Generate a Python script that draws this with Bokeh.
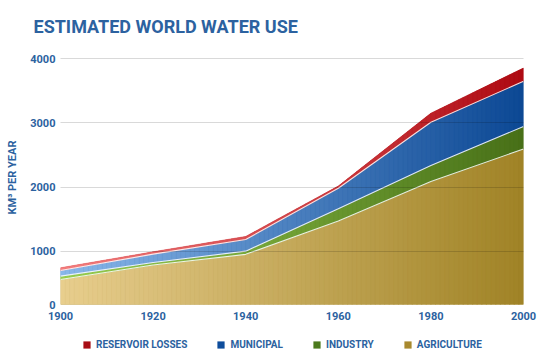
import numpy as np
from bokeh.plotting import figure
from bokeh.layouts import column
from bokeh.models import FixedTicker, Legend, LegendItem, Range1d
from bokeh.embed import file_html
from bokeh.resources import INLINE

# ---- data (km3 per year) ----
years = [1900, 1920, 1940, 1960, 1980, 2000]
agriculture = [558, 783, 950, 1470, 2086, 2593]
industry = [52, 40, 50, 190, 250, 351]
municipal = [89, 131, 182, 320, 675, 705]
reservoir_losses = [42, 36, 47, 35, 140, 207]

x_ticks = [1900, 1920, 1940, 1960, 1980, 2000]
y_ticks = [1000, 2000, 3000, 4000]
series_labels = ["RESERVOIR LOSSES", "MUNICIPAL", "INDUSTRY", "AGRICULTURE"]

# ---- style ----
TEXT_BLUE = "#2c62a0"
FONT = "Roboto"
W, H1, H2 = 550, 330, 32
BL, BR, BT, BB = 60, 27, 50, 26
Y0, Y1 = 168, 4129
STRIPS_PER_SEGMENT = 20

solid = {"res": "#a80d14", "mun": "#0e4d9c", "ind": "#4c7a1c", "agr": "#a8892e"}
grad = {
    "agr": ((232, 206, 142), (160, 131, 38)),
    "ind": ((152, 206, 80), (72, 112, 24)),
    "mun": ((138, 184, 234), (12, 72, 148)),
    "res": ((244, 126, 126), (174, 10, 18)),
}


def mix(c0, c1, u):
    return "#%02x%02x%02x" % tuple(int(round(a + (b - a) * u)) for a, b in zip(c0, c1))


p = figure(width=W, height=H1, x_range=Range1d(1900, 2000), y_range=Range1d(Y0, Y1),
           output_backend="svg", toolbar_location=None,
           min_border_left=BL, min_border_right=BR, min_border_top=BT, min_border_bottom=BB)
p.outline_line_color = None
p.background_fill_color = "white"

a = np.array(agriculture, dtype=float)
i = np.array(industry, dtype=float)
m = np.array(municipal, dtype=float)
r = np.array(reservoir_losses, dtype=float)
c1 = a
c2 = a + i
c3 = a + i + m
c4 = a + i + m + r

layers = [("agr", np.zeros_like(a), c1), ("ind", c1, c2), ("mun", c2, c3), ("res", c3, c4)]
span = years[-1] - years[0]
for key, lo, hi in layers:
    # the stacked band itself
    p.varea(x=years, y1=lo, y2=hi, fill_color=solid[key], fill_alpha=1)
    # left-to-right colour shading, laid over the band segment by segment
    xs_l, ys_l, cols = [], [], []
    for j in range(len(years) - 1):
        for s in range(STRIPS_PER_SEGMENT):
            t0 = s / STRIPS_PER_SEGMENT
            t1 = (s + 1) / STRIPS_PER_SEGMENT
            xa = years[j] + t0 * (years[j + 1] - years[j])
            xb = years[j] + t1 * (years[j + 1] - years[j])
            la = lo[j] + t0 * (lo[j + 1] - lo[j])
            lb = lo[j] + t1 * (lo[j + 1] - lo[j])
            ha = hi[j] + t0 * (hi[j + 1] - hi[j])
            hb = hi[j] + t1 * (hi[j + 1] - hi[j])
            xs_l.append([xa, xb, xb, xa])
            ys_l.append([la, lb, hb, ha])
            cols.append(mix(*grad[key], ((xa + xb) / 2 - years[0]) / span))
    p.patches(xs_l, ys_l, fill_color=cols, line_color=cols, line_width=0.6)

for top in (c1, c2, c3):
    p.line(years, top, line_color="white", line_width=1.1, line_alpha=0.85)

# grid
p.xgrid.visible = False
p.ygrid.ticker = FixedTicker(ticks=y_ticks)
p.ygrid.grid_line_color = "black"
p.ygrid.grid_line_alpha = 0.15
p.ygrid.level = "overlay"

# axes
for ax in (p.xaxis[0], p.yaxis[0]):
    ax.axis_line_color = None
    ax.major_tick_line_color = None
    ax.minor_tick_line_color = None
    ax.major_tick_out = 0
    ax.major_tick_in = 0
    ax.minor_tick_out = 0
    ax.minor_tick_in = 0
    ax.major_label_text_font = FONT
    ax.major_label_text_font_style = "bold"
    ax.major_label_text_font_size = "11px"
    ax.major_label_text_color = TEXT_BLUE

p.xaxis.ticker = FixedTicker(ticks=x_ticks)
p.xaxis.major_label_standoff = 7
p.yaxis.ticker = FixedTicker(ticks=[Y0] + y_ticks)
p.yaxis.major_label_overrides = {Y0: "0"}
p.yaxis.major_label_standoff = 5
p.yaxis.axis_label = "KM³ PER YEAR"
p.yaxis.axis_label_text_font = FONT
p.yaxis.axis_label_text_font_style = "bold"
p.yaxis.axis_label_text_font_size = "11px"
p.yaxis.axis_label_text_color = TEXT_BLUE
p.yaxis.axis_label_standoff = 8

# title
p.title.text = "ESTIMATED WORLD WATER USE"
p.title.text_font = FONT
p.title.text_font_style = "bold"
p.title.text_font_size = "18px"
p.title.text_color = TEXT_BLUE
p.title.align = "left"
p.title.offset = -27
p.title.standoff = 27

# legend strip under the chart (its own small figure; the series bands in it
# lie outside its 0..1 view, so only the legend entries show)
pl = figure(width=W, height=H2, x_axis_type=None, y_axis_type=None,
            x_range=Range1d(0, 1), y_range=Range1d(0, 1),
            output_backend="svg", toolbar_location=None,
            min_border_left=0, min_border_right=0, min_border_top=0, min_border_bottom=0)
pl.outline_line_color = None
pl.grid.visible = False
swatches = {k: pl.varea(x=years, y1=lo, y2=hi, fill_color=solid[k], fill_alpha=1)
            for k, lo, hi in layers}
items = [LegendItem(label=lab, renderers=[swatches[k]])
         for lab, k in zip(series_labels, ["res", "mun", "ind", "agr"])]
lg = Legend(items=items, location=(22, 12), orientation="horizontal",
            glyph_width=9, glyph_height=9, label_standoff=5, spacing=29,
            padding=0, margin=0,
            border_line_color=None, background_fill_alpha=0,
            label_text_font=FONT, label_text_font_style="bold",
            label_text_font_size="10px", label_text_color=TEXT_BLUE)
pl.add_layout(lg)

open("out.html", "w").write(file_html(column(p, pl, spacing=0), INLINE))
